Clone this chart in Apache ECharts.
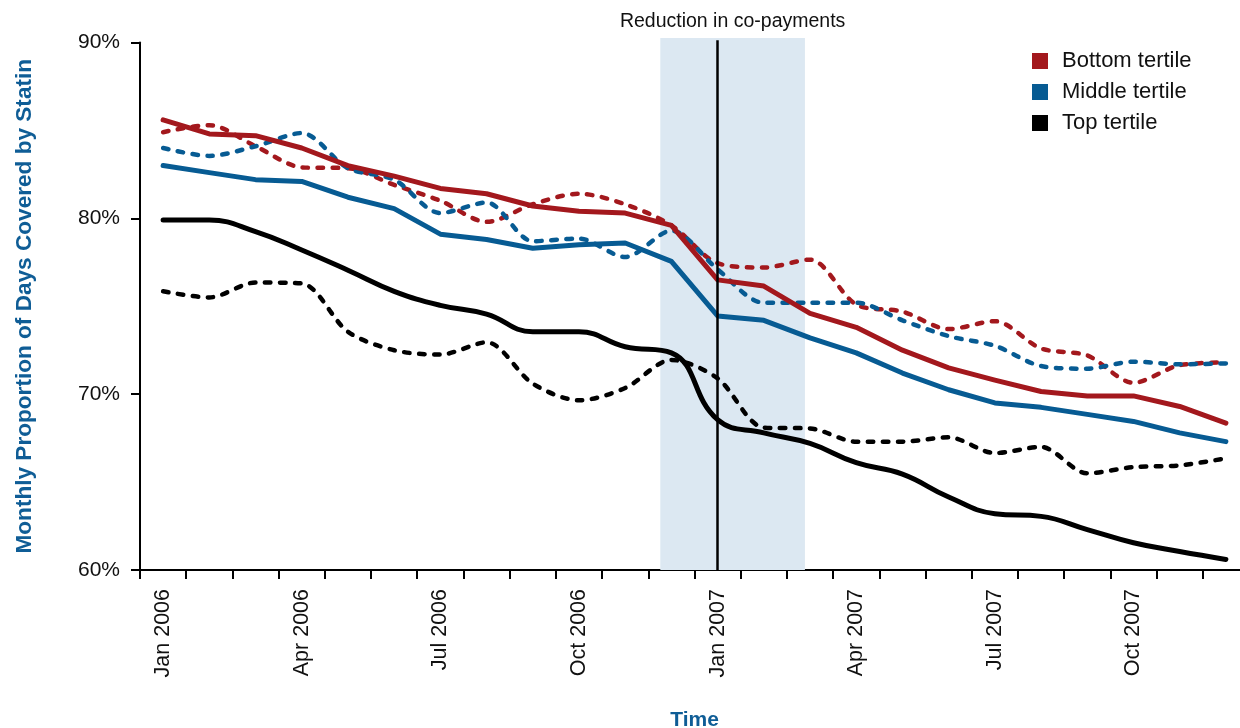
<!DOCTYPE html>
<html>
<head>
<meta charset="utf-8">
<script src="https://cdn.jsdelivr.net/npm/echarts@6/dist/echarts.min.js"></script>
<style>
html,body{margin:0;padding:0;background:#fff;}
#chart{width:1240px;height:728px;}
</style>
</head>
<body>
<div id="chart"></div>
<script>
var months = ['Jan 2006','Feb 2006','Mar 2006','Apr 2006','May 2006','Jun 2006','Jul 2006','Aug 2006','Sep 2006','Oct 2006','Nov 2006','Dec 2006',
              'Jan 2007','Feb 2007','Mar 2007','Apr 2007','May 2007','Jun 2007','Jul 2007','Aug 2007','Sep 2007','Oct 2007','Nov 2007','Dec 2007'];
var bottomSolid = [85.6, 84.8, 84.7, 84.0, 83.0, 82.4, 81.7, 81.4, 80.7, 80.4, 80.3, 79.6, 76.5, 76.15, 74.6, 73.8, 72.5, 71.5, 70.8, 70.15, 69.9, 69.9, 69.3, 68.35];
var bottomDashed = [84.9, 85.3, 84.1, 82.9, 82.85, 81.9, 81.0, 79.8, 80.8, 81.4, 80.8, 79.6, 77.45, 77.2, 77.65, 75.1, 74.7, 73.7, 74.15, 72.6, 72.2, 70.65, 71.65, 71.8];
var middleSolid = [83.0, 82.6, 82.2, 82.1, 81.2, 80.55, 79.1, 78.8, 78.3, 78.5, 78.6, 77.55, 74.45, 74.2, 73.2, 72.35, 71.2, 70.25, 69.5, 69.25, 68.85, 68.45, 67.8, 67.3];
var middleDashed = [84.0, 83.55, 84.1, 84.85, 82.85, 82.2, 80.3, 80.9, 78.7, 78.85, 77.8, 79.3, 77.1, 75.2, 75.2, 75.2, 74.2, 73.3, 72.75, 71.6, 71.45, 71.85, 71.7, 71.75];
var topSolid = [79.9, 79.9, 79.25, 78.2, 77.05, 75.85, 75.05, 74.55, 73.55, 73.55, 72.7, 72.35, 68.55, 67.8, 67.2, 66.1, 65.45, 64.15, 63.2, 63.05, 62.3, 61.55, 61.05, 60.6];
var topDashed = [75.85, 75.5, 76.35, 76.3, 73.55, 72.5, 72.25, 72.95, 70.6, 69.65, 70.35, 71.95, 70.9, 68.1, 68.05, 67.3, 67.3, 67.55, 66.65, 67.0, 65.5, 65.85, 65.95, 66.35];
var legendNames = ['Bottom tertile', 'Middle tertile', 'Top tertile'];
var yTicks = {min: 60, max: 90, interval: 10};
// annotation in month-band units (0 = left edge of Jan 2006 band); vertical in fraction of annotation band
var shadeStart = 11.26, shadeEnd = 14.39, eventPos = 12.5, eventTop = 0.996;
var annotationText = 'Reduction in co-payments';

var RED = '#A3181D', BLUE = '#075B93', BLACK = '#000000';
var FONT = '"Liberation Sans", Arial, Helvetica, sans-serif';

function solid(name, data, color, smooth) {
  return {name: name, type: 'line', data: data, symbol: 'none', smooth: smooth, z: 3,
    itemStyle: {color: color}, lineStyle: {color: color, width: 5, cap: 'round', join: 'round'}};
}
function dashed(name, data, color, smooth) {
  return {name: name, type: 'line', data: data, symbol: 'none', smooth: smooth, z: 2,
    itemStyle: {color: color}, lineStyle: {color: color, width: 4.5, type: [5.5, 9.5], cap: 'round', join: 'round'}};
}

var chart = echarts.init(document.getElementById('chart'));
chart.setOption({
  animation: false,
  backgroundColor: '#fff',
  textStyle: {fontFamily: FONT},
  grid: [
    {left: 140, top: 42.5, width: 1109, height: 527.5, containLabel: false, outerBoundsMode: 'none'},
    {left: 140, top: 38, width: 1109, height: 532, containLabel: false, outerBoundsMode: 'none'}
  ],
  legend: {
    data: legendNames.map(function(n){return {name: n, icon: 'rect'};}),
    orient: 'vertical', left: 1032, top: 50, padding: 0, itemWidth: 16, itemHeight: 16, itemGap: 9,
    selectedMode: false,
    textStyle: {fontSize: 22, color: '#111', lineHeight: 22, padding: [0, 0, 0, 9], fontFamily: FONT}
  },
  xAxis: [{
    type: 'category', data: months, boundaryGap: true, gridIndex: 0,
    name: 'Time', nameLocation: 'middle', nameGap: 140,
    nameTextStyle: {fontSize: 21, fontWeight: 'bold', color: '#0F5D96', fontFamily: FONT},
    axisLine: {lineStyle: {color: '#000', width: 2}},
    axisTick: {show: true, interval: 0, length: 9, lineStyle: {color: '#000', width: 2}},
    axisLabel: {interval: 2, rotate: 90, fontSize: 21.5, color: '#111', margin: 19, fontFamily: FONT},
    splitLine: {show: false}
  }, {
    type: 'value', gridIndex: 1, min: 0, max: 24, show: false
  }],
  yAxis: [{
    type: 'value', gridIndex: 0, min: yTicks.min, max: yTicks.max, interval: yTicks.interval,
    name: 'Monthly Proportion of Days Covered by Statin', nameLocation: 'middle', nameGap: 104,
    nameTextStyle: {fontSize: 22.6, fontWeight: 'bold', color: '#0F5D96', fontFamily: FONT},
    axisLine: {show: true, lineStyle: {color: '#000', width: 2}},
    axisTick: {show: true, length: 9, lineStyle: {color: '#000', width: 2}},
    axisLabel: {fontSize: 21, color: '#111', margin: 20, formatter: '{value}%', fontFamily: FONT},
    splitLine: {show: false}
  }, {
    type: 'value', gridIndex: 1, min: 0, max: 1, show: false
  }],
  series: [
    {
      name: 'annotation', type: 'line', xAxisIndex: 1, yAxisIndex: 1, data: [], z: 1, silent: true,
      markArea: {
        silent: true,
        itemStyle: {color: '#DCE8F2'},
        label: {show: true, position: 'top', distance: 6, color: '#111', fontSize: 19.5, fontFamily: FONT},
        data: [[{name: annotationText, xAxis: shadeStart, yAxis: 1}, {xAxis: shadeEnd, yAxis: 0}]]
      },
      markLine: {
        silent: true, symbol: 'none', label: {show: false},
        lineStyle: {color: '#000', width: 2.5, type: 'solid'},
        data: [[{xAxis: eventPos, yAxis: 0}, {xAxis: eventPos, yAxis: eventTop}]]
      }
    },
    dashed('Bottom tertile (comparison)', bottomDashed, RED, 0.3),
    dashed('Middle tertile (comparison)', middleDashed, BLUE, 0.3),
    dashed('Top tertile (comparison)', topDashed, BLACK, 0.3),
    solid('Bottom tertile', bottomSolid, RED, false),
    solid('Middle tertile', middleSolid, BLUE, false),
    solid('Top tertile', topSolid, BLACK, 0.45)
  ]
});
</script>
</body>
</html>
